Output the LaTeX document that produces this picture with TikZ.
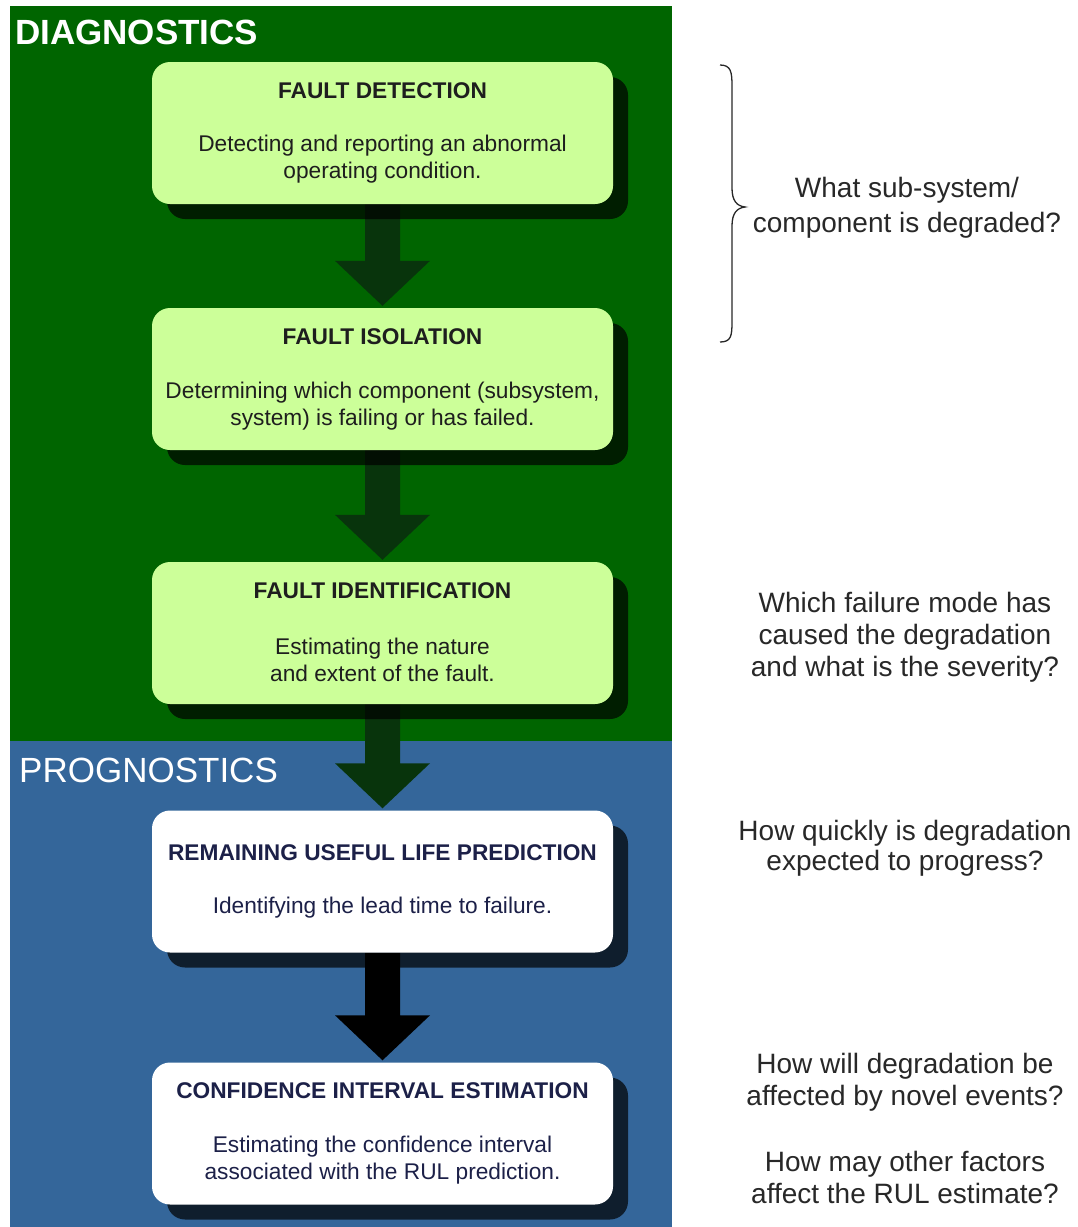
\documentclass[tikz,border=0pt]{standalone}
\usepackage{fontspec}
\setmainfont{Liberation Sans}
\usetikzlibrary{shadows,calc,backgrounds}
\definecolor{diagG}{RGB}{0,101,0}
\definecolor{progB}{RGB}{52,102,154}
\definecolor{boxG}{RGB}{204,255,153}
\definecolor{arrG}{RGB}{8,52,12}
\definecolor{txtG}{RGB}{30,30,30}
\definecolor{txtB}{RGB}{28,32,72}
\definecolor{qtxt}{RGB}{40,40,40}
\tikzset{
  stagebox/.style={rectangle, rounded corners=18pt, minimum width=461pt, minimum height=142pt, inner sep=0pt,
    drop shadow={shadow xshift=15pt, shadow yshift=-15pt, fill=black, opacity=0.7}},
  greenbox/.style={stagebox, fill=boxG},
  whitebox/.style={stagebox, fill=white},
  ttl/.style={font=\fontsize{22.7}{26}\selectfont\bfseries, inner sep=0pt},
  dsc/.style={font=\fontsize{22.7}{27.5}\selectfont, align=center, inner sep=0pt},
  question/.style={font=\fontsize{28}{32}\selectfont, align=center, text=qtxt, inner sep=0pt},
  panelhead/.style={font=\fontsize{35}{40}\selectfont, text=white, anchor=west, inner sep=0pt},
}
\newcommand{\bigarrow}[3]{%
  \fill[#3] ($(#1.south)+(-17.5,0)$) -- ($(#2.north)+(-17.5,-47)$) -- ($(#2.north)+(-47.5,-47)$)
    -- ($(#2.north)+(0,-2)$) -- ($(#2.north)+(47.5,-47)$) -- ($(#2.north)+(17.5,-47)$)
    -- ($(#1.south)+(17.5,0)$) -- cycle;}
\begin{document}
\begin{tikzpicture}[x=1pt,y=-1pt]
\useasboundingbox (0,0) rectangle (1078,1227);
\begin{pgfonlayer}{background}
\fill[white] (0,0) rectangle (1078,1227);
\fill[diagG] (10,6) rectangle (672,741);
\fill[progB] (10,741) rectangle (672,1227);
\end{pgfonlayer}
\node[panelhead, font=\fontsize{35}{40}\selectfont\bfseries] (diag) at (15,32) {DIAGNOSTICS};
\node[panelhead] (prog) at (19,770) {PROGNOSTICS};

\node[greenbox] (b1) at (382.5,133) {};
\node[greenbox] (b2) at (382.5,379) {};
\node[greenbox] (b3) at (382.5,633) {};
\node[whitebox] (b4) at (382.5,881.5) {};
\node[whitebox] (b5) at (382.5,1133.5) {};

\begin{pgfonlayer}{background}
\bigarrow{b1}{b2}{arrG}
\bigarrow{b2}{b3}{arrG}
\bigarrow{b3}{b4}{arrG}
\bigarrow{b4}{b5}{black}
\end{pgfonlayer}

\node[ttl, text=txtG] (t1) at (382.5,91) {FAULT DETECTION};
\node[dsc, text=txtG] (d1) at (382.5,159) {Detecting and reporting an abnormal\\operating condition.};
\node[ttl, text=txtG] (t2) at (382.5,337) {FAULT ISOLATION};
\node[dsc, text=txtG] (d2) at (382.5,406) {Determining which component (subsystem,\\system) is failing or has failed.};
\node[ttl, text=txtG] (t3) at (382.5,591) {FAULT IDENTIFICATION};
\node[dsc, text=txtG] (d3) at (382.5,660) {Estimating the nature\\and extent of the fault.};
\node[ttl, text=txtB] (t4) at (382.5,853) {REMAINING USEFUL LIFE PREDICTION};
\node[dsc, text=txtB] (d4) at (382.5,908) {Identifying the lead time to failure.};
\node[ttl, text=txtB] (t5) at (382.5,1091) {CONFIDENCE INTERVAL ESTIMATION};
\node[dsc, text=txtB] (d5) at (382.5,1160) {Estimating the confidence interval\\associated with the RUL prediction.};

\draw[qtxt, line width=1.3pt] (720,65) .. controls (731,65) and (732,72) .. (732,86) -- (732,188)
  .. controls (732,201) and (737,206) .. (745,207) .. controls (737,208) and (732,213) .. (732,226)
  -- (732,322) .. controls (732,336) and (731,342) .. (720,342);
\node[question, font=\fontsize{28}{35}\selectfont] (q1) at (907,208) {What sub-system/\\component is degraded?};
\node[question] (q2) at (905,637) {Which failure mode has\\caused the degradation\\and what is the severity?};
\node[question, font=\fontsize{28}{30}\selectfont] (q3) at (905,848) {How quickly is degradation\\expected to progress?};
\node[question] (q4) at (905,1082) {How will degradation be\\affected by novel events?};
\node[question] (q5) at (905,1177) {How may other factors\\affect the RUL estimate?};
\end{tikzpicture}
\end{document}
